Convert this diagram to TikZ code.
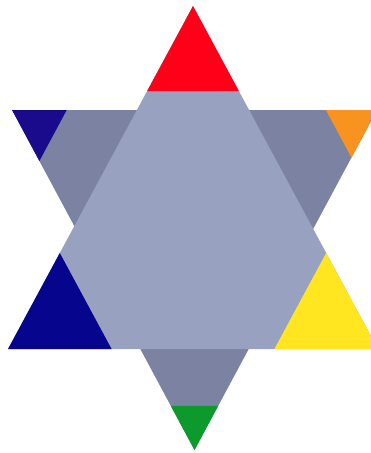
\documentclass[tikz,border=0pt]{standalone}
\usepackage{tikz}
\usetikzlibrary{calc}

\definecolor{paleslate}{HTML}{98A2C0}
\definecolor{darkslate}{HTML}{7B82A2}
\definecolor{tipred}{HTML}{FF0018}
\definecolor{tipnavy}{HTML}{1A0A8C}
\definecolor{tiporange}{HTML}{F7931E}
\definecolor{tipblue}{HTML}{05058E}
\definecolor{tipyellow}{HTML}{FFE620}
\definecolor{tipgreen}{HTML}{0C9A2C}

\begin{document}
\begin{tikzpicture}[
    x=1pt, y=-1pt,
    lowertri/.style={fill=darkslate},
    uppertri/.style={fill=paleslate},
    tip/.style={fill=#1}
]

\clip (0,0) rectangle (371,453);

% Corners
\coordinate (top) at (193,6);
\coordinate (botleft) at (8,349);
\coordinate (botright) at (378,349);
\coordinate (upleft) at (12,110);
\coordinate (upright) at (377,110);
\coordinate (bottom) at (194.5,450);

% Downward triangle
\fill[lowertri] (upleft) -- (upright) -- (bottom) -- cycle;
\fill[tip=tipnavy] (upleft) -- ($(upleft)!0.15!(upright)$) -- ($(upleft)!0.15!(bottom)$) -- cycle;
\fill[tip=tiporange] (upright) -- ($(upright)!0.14!(upleft)$) -- ($(upright)!0.14!(bottom)$) -- cycle;
\fill[tip=tipgreen] (bottom) -- ($(bottom)!0.13!(upleft)$) -- ($(bottom)!0.13!(upright)$) -- cycle;

% Upward triangle
\fill[uppertri] (top) -- (botleft) -- (botright) -- cycle;
\fill[tip=tipred] (top) -- ($(top)!0.248!(botleft)$) -- ($(top)!0.248!(botright)$) -- cycle;
\fill[tip=tipblue] (botleft) -- ($(botleft)!0.28!(top)$) -- ($(botleft)!0.28!(botright)$) -- cycle;
\fill[tip=tipyellow] (botright) -- ($(botright)!0.28!(top)$) -- ($(botright)!0.28!(botleft)$) -- cycle;

\end{tikzpicture}
\end{document}
